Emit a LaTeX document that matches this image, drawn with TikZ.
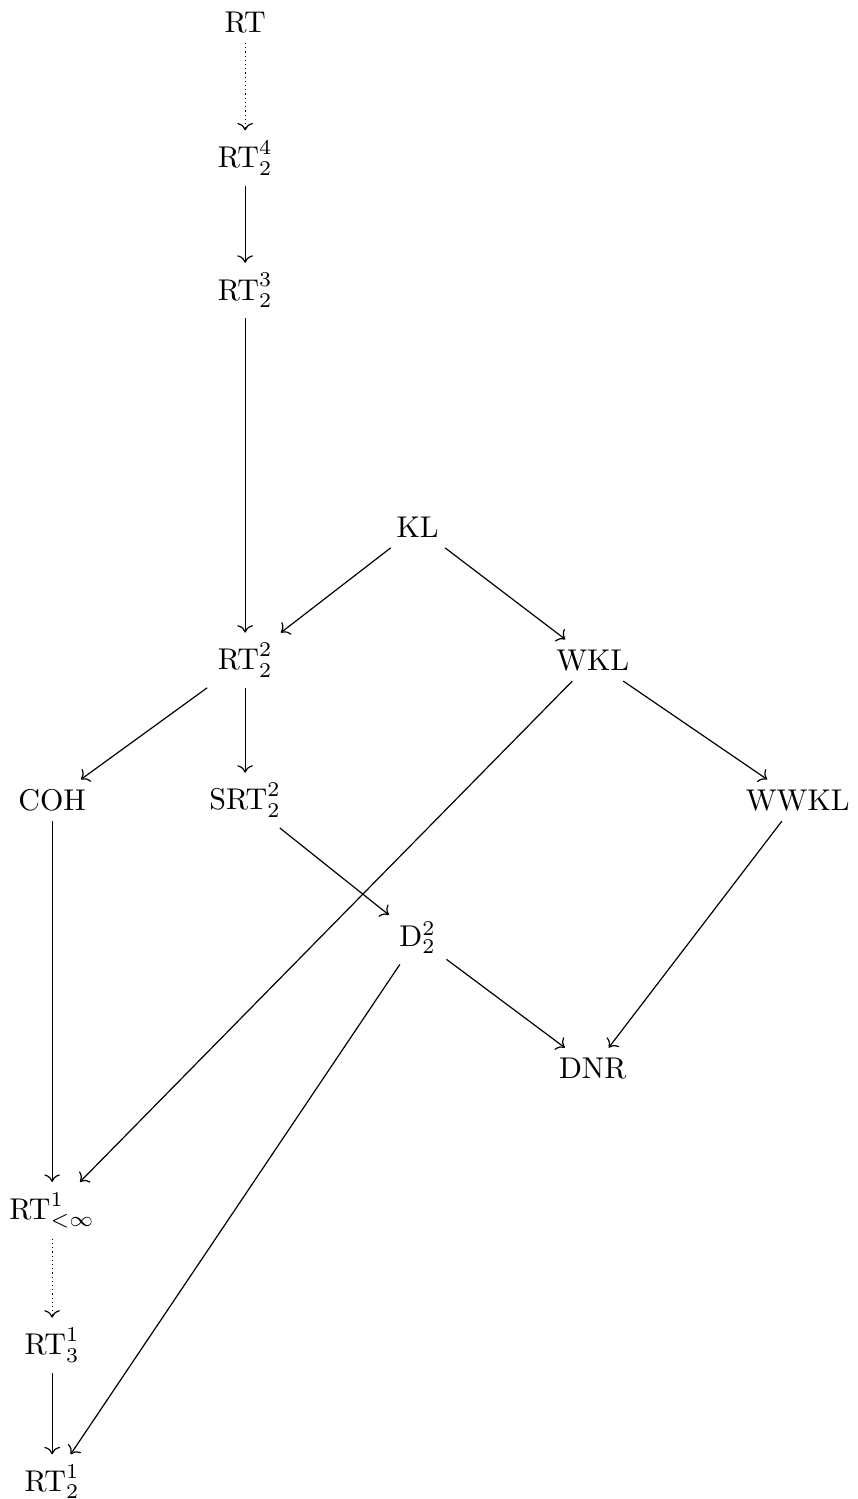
\documentclass[tikz,border=0pt]{standalone}
\usepackage{amsmath}
\usetikzlibrary{positioning, arrows.meta}

\begin{document}
\begin{tikzpicture}[prin/.style={inner sep=3.33pt}, >={Computer Modern Rightarrow}]
    \useasboundingbox (0,0) rectangle (10.04,-17.55);

    \node[prin] (rt) at (2.87,-0.26) {$\mathrm{RT}$};
    \node[prin] (rtfour) at (2.87,-1.85) {$\mathrm{RT}^4_2$};
    \node[prin] (rtthree) at (2.87,-3.40) {$\mathrm{RT}^3_2$};
    \node[prin] (kl) at (4.89,-6.17) {$\mathrm{KL}$};
    \node[prin] (rttwo) at (2.87,-7.73) {$\mathrm{RT}^2_2$};
    \node[prin] (wkl) at (6.94,-7.73) {$\mathrm{WKL}$};
    \node[prin] (coh) at (0.61,-9.37) {$\mathrm{COH}$};
    \node[prin] (srt) at (2.87,-9.37) {$\mathrm{SRT}^2_2$};
    \node[prin] (wwkl) at (9.34,-9.37) {$\mathrm{WWKL}$};
    \node[prin] (d) at (4.89,-10.98) {$\mathrm{D}^2_2$};
    \node[prin] (dnr) at (6.94,-12.51) {$\mathrm{DNR}$};
    \node[prin] (rtfin) at (0.61,-14.17) {$\mathrm{RT}^1_{<\infty}$};
    \node[prin] (rtonethree) at (0.61,-15.75) {$\mathrm{RT}^1_3$};
    \node[prin] (rtonetwo) at (0.61,-17.35) {$\mathrm{RT}^1_2$};

    \draw[->, densely dotted] (rt.south) -- (rtfour.north);
    \draw[->] (rtfour.south) -- (rtthree.north);
    \draw[->] (rtthree.south) -- (rttwo.north);
    \draw[->] (kl) -- (rttwo);
    \draw[->] (kl) -- (wkl);
    \draw[->] (rttwo) -- (coh);
    \draw[->] (rttwo.south) -- (srt.north);
    \draw[->] (wkl) -- (wwkl);
    \draw[->] (wkl) -- (rtfin);
    \draw[->] (srt) -- (d);
    \draw[->] (d) -- (dnr);
    \draw[->] (wwkl) -- (dnr);
    \draw[->] (d) -- (rtonetwo);
    \draw[->] (coh.south) -- (rtfin.north);
    \draw[->, densely dotted] (rtfin.south) -- (rtonethree.north);
    \draw[->] (rtonethree.south) -- (rtonetwo.north);
\end{tikzpicture}
\end{document}
